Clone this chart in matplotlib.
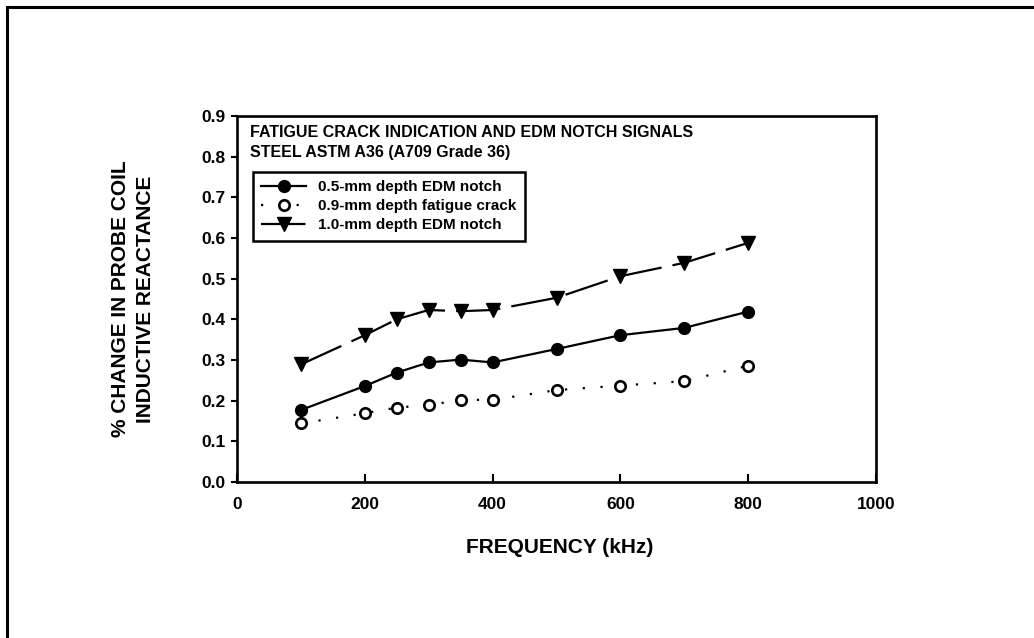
import matplotlib
matplotlib.use('Agg')
import matplotlib.pyplot as plt
from matplotlib.patches import Rectangle

plt.rcParams['font.family'] = ['Liberation Sans', 'DejaVu Sans']
plt.rcParams['font.weight'] = 'bold'

freq = [100, 200, 250, 300, 350, 400, 500, 600, 700, 800]
edm_05 = [0.177, 0.236, 0.269, 0.294, 0.301, 0.294, 0.327, 0.361, 0.379, 0.419]
crack_09 = [0.144, 0.169, 0.183, 0.189, 0.202, 0.202, 0.226, 0.237, 0.248, 0.286]
edm_10 = [0.289, 0.361, 0.400, 0.423, 0.420, 0.423, 0.453, 0.506, 0.539, 0.588]

x_ticks = [0, 200, 400, 600, 800, 1000]
y_ticks = [0.0, 0.1, 0.2, 0.3, 0.4, 0.5, 0.6, 0.7, 0.8, 0.9]

W, H = 1034, 638
fig = plt.figure(figsize=(W / 100, H / 100), dpi=100)
fig.patch.set_facecolor('white')

# outer frame (only top/left edges show in the original, the rest is cropped)
fig.patches.append(Rectangle((6.5 / W, -0.1), 1.2, 1 - 6.5 / H + 0.1,
                             transform=fig.transFigure, fill=False,
                             edgecolor='black', linewidth=2.2))

ax = fig.add_axes([237 / W, 1 - 482 / H, (876 - 237) / W, (482 - 116) / H])

ax.plot(freq, edm_05, color='black', lw=1.6, marker='o', ms=8.5,
        mfc='black', mec='black', label='0.5-mm depth EDM notch')
ax.plot(freq, crack_09, color='black', lw=1.6, dashes=(1, 7), marker='o', ms=7.5,
        mfc='white', mec='black', mew=1.9, label='0.9-mm depth fatigue crack')
ax.plot(freq, edm_10, color='black', lw=1.6, dashes=(20, 5), marker='v', ms=10,
        mfc='black', mec='black', label='1.0-mm depth EDM notch')

ax.set_xlim(0, 1000)
ax.set_ylim(0, 0.9)
ax.set_xticks(x_ticks)
ax.set_yticks(y_ticks)
ax.set_xticklabels([str(v) for v in x_ticks], fontsize=12.5, fontweight='bold')
ax.set_yticklabels([f'{v:.1f}' for v in y_ticks], fontsize=12.5, fontweight='bold')
ax.tick_params(axis='x', direction='in', length=6, width=1.5, pad=10.5)
ax.tick_params(axis='y', direction='out', length=4.5, width=1.5, pad=4)
for sp in ax.spines.values():
    sp.set_linewidth(1.9)

ax.set_xlabel('FREQUENCY (kHz)', fontsize=15, fontweight='bold', va='center')
ax.xaxis.set_label_coords(0.505, -0.178)
ax.set_ylabel('% CHANGE IN PROBE COIL\nINDUCTIVE REACTANCE', fontsize=15,
              fontweight='bold', linespacing=1.4, va='center')
ax.yaxis.set_label_coords(-0.162, 0.5)

ax.text(0.02, 0.975, 'FATIGUE CRACK INDICATION AND EDM NOTCH SIGNALS\nSTEEL ASTM A36 (A709 Grade 36)',
        transform=ax.transAxes, fontsize=11.5, fontweight='bold', va='top', ha='left',
        linespacing=1.4)

leg = ax.legend(loc='upper left', bbox_to_anchor=(0.025, 0.847), borderaxespad=0,
                frameon=True, fancybox=False, edgecolor='black', framealpha=1,
                handlelength=2.9, handletextpad=0.8, borderpad=0.55, labelspacing=0.32,
                prop={'weight': 'bold', 'size': 11})
leg.get_frame().set_linewidth(1.8)

fig.savefig('out.png', dpi=100, facecolor='white')
